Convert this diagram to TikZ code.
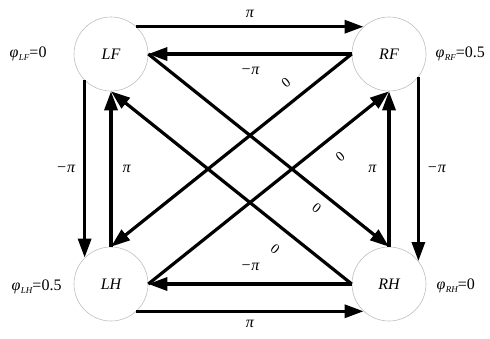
\documentclass[tikz,border=0pt]{standalone}
\usepackage{fontspec}
\setmainfont{Liberation Serif}
\usetikzlibrary{arrows.meta}
\newcommand{\phs}[2]{\textit{φ}\kern0.5pt\raisebox{-0.35ex}{\fontsize{9}{9}\selectfont\itshape #1}=#2}
\begin{document}
\begin{tikzpicture}[x=1pt,y=-1pt,
  leg/.style={circle,draw=gray!50,line width=0.6pt,fill=white,minimum size=74pt,inner sep=0pt,font=\fontsize{16}{18}\selectfont\itshape},
  link/.style={line width=3.2pt,-{Triangle[length=19pt,width=13pt]}},
  lbl/.style={font=\fontsize{16}{18}\selectfont\itshape,inner sep=2pt},
  zlbl/.style={font=\fontsize{14}{16}\selectfont,sloped,inner sep=1pt},
  phase/.style={font=\fontsize{16}{18}\selectfont,inner sep=1pt}]
\useasboundingbox (0,0) rectangle (490,338);
\node[leg] (LF) at (111,54) {LF};
\node[leg] (RF) at (389,54) {RF};
\node[leg] (LH) at (111,284) {LH};
\node[leg] (RH) at (389,284) {RH};
\node[phase,anchor=east] (pLF) at ([xshift=-26pt]LF.west) {\phs{LF}{0}};
\node[phase,anchor=west] (pRF) at ([xshift=8pt]RF.east) {\phs{RF}{0.5}};
\node[phase,anchor=east] (pLH) at ([xshift=-11pt,yshift=-3pt]LH.west) {\phs{LH}{0.5}};
\node[phase,anchor=west] (pRH) at ([xshift=9pt,yshift=-2pt]RH.east) {\phs{RH}{0}};
% horizontal
\draw[link] (LF.47) -- node[lbl,above=5pt]{π} (RF.133);
\draw[link] (RF.west) -- node[lbl,below=10pt]{−π} (LF.east);
\draw[link] (LH.-47) -- node[lbl,below=5pt]{π} (RH.-133);
\draw[link] (RH.west) -- node[lbl,above=10pt]{−π} (LH.east);
% vertical
\draw[link] (LF.-135) -- node[lbl,left=6pt]{−π} (LH.135);
\draw[link] (LH.north) -- node[lbl,right=8pt]{π} (LF.south);
\draw[link] (RF.-38) -- node[lbl,right=5pt]{−π} (RH.38);
\draw[link] (RH.north) -- node[lbl,left=9pt]{π} (RF.south);
% diagonal
\draw[link] (LF.east) -- node[zlbl,pos=0.74,below=8pt]{0} (RH.north);
\draw[link] (RH.west) -- node[zlbl,pos=0.265,below=13pt]{0} (LF.south);
\draw[link] (RF.west) -- node[zlbl,pos=0.225,above=11pt]{0} (LH.north);
\draw[link] (LH.east) -- node[zlbl,pos=0.745,below=13pt]{0} (RF.south);
\end{tikzpicture}
\end{document}
